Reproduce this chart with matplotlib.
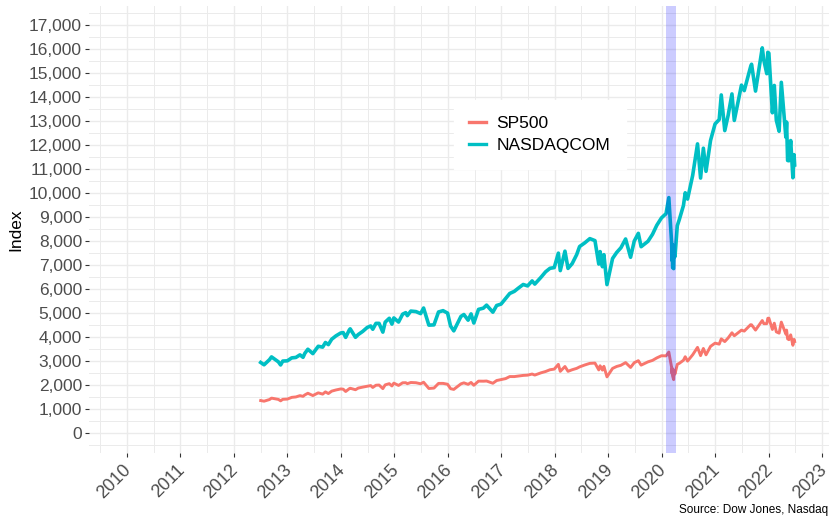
import numpy as np
import pandas as pd
import matplotlib
matplotlib.use("Agg")
import matplotlib.pyplot as plt
import matplotlib.transforms as mtransforms
from matplotlib.lines import Line2D
from matplotlib.ticker import FuncFormatter, MultipleLocator

plt.rcParams['font.family'] = ['Liberation Sans', 'DejaVu Sans']

dates = [
    "2012-07-02", "2012-07-25", "2012-08-31", "2012-09-14", "2012-10-31", "2012-11-15", "2012-11-30", "2012-12-31",
    "2013-01-31", "2013-02-28", "2013-03-28", "2013-04-18", "2013-04-30", "2013-05-21", "2013-06-24", "2013-07-31",
    "2013-08-30", "2013-09-18", "2013-10-08", "2013-10-31", "2013-11-29", "2013-12-31",
    "2014-01-17", "2014-02-03", "2014-02-28", "2014-03-06", "2014-04-11", "2014-04-30", "2014-05-30", "2014-06-30",
    "2014-07-24", "2014-08-07", "2014-08-29", "2014-09-19", "2014-10-15", "2014-10-31", "2014-11-28", "2014-12-16",
    "2014-12-29",
    "2015-01-30", "2015-02-27", "2015-03-20", "2015-03-31", "2015-04-24", "2015-05-29", "2015-06-30", "2015-07-20",
    "2015-08-25", "2015-09-29", "2015-10-30", "2015-11-30", "2015-12-31",
    "2016-01-20", "2016-02-11", "2016-03-31", "2016-04-20", "2016-05-19", "2016-06-08", "2016-06-27", "2016-07-29",
    "2016-08-31", "2016-09-22", "2016-11-04", "2016-11-30", "2016-12-30",
    "2017-01-31", "2017-02-28", "2017-03-31", "2017-04-28", "2017-05-31", "2017-06-30", "2017-07-31", "2017-08-18",
    "2017-09-29", "2017-10-31", "2017-11-30", "2017-12-29",
    "2018-01-26", "2018-02-08", "2018-03-12", "2018-04-02", "2018-04-30", "2018-05-31", "2018-06-20", "2018-07-25",
    "2018-08-29", "2018-10-03", "2018-10-29", "2018-11-07", "2018-11-23", "2018-12-03", "2018-12-24",
    "2019-01-31", "2019-02-28", "2019-03-29", "2019-04-30", "2019-06-03", "2019-06-28", "2019-07-26", "2019-08-14",
    "2019-09-30", "2019-10-31", "2019-11-29", "2019-12-31",
    "2020-01-31", "2020-02-19", "2020-03-09", "2020-03-12", "2020-03-13", "2020-03-16", "2020-03-23", "2020-03-26",
    "2020-04-01", "2020-04-17", "2020-04-30", "2020-05-29", "2020-06-10", "2020-06-26", "2020-07-31", "2020-09-02",
    "2020-09-23", "2020-10-12", "2020-10-30", "2020-11-30", "2020-12-31",
    "2021-01-29", "2021-02-12", "2021-03-08", "2021-03-31", "2021-04-26", "2021-05-12", "2021-06-30", "2021-07-19",
    "2021-08-31", "2021-09-07", "2021-10-04", "2021-11-19", "2021-11-30", "2021-12-20", "2021-12-27",
    "2022-01-03", "2022-01-27", "2022-02-09", "2022-02-23", "2022-03-14", "2022-03-29", "2022-04-29", "2022-05-04",
    "2022-05-11", "2022-05-20", "2022-06-01", "2022-06-16", "2022-06-24", "2022-06-28",
]

sp500 = [
    1365, 1338, 1407, 1466, 1412, 1353, 1416, 1426,
    1498, 1515, 1569, 1541, 1598, 1669, 1573, 1686,
    1633, 1726, 1656, 1757, 1806, 1848,
    1839, 1742, 1859, 1877, 1816, 1884, 1924, 1960,
    1988, 1910, 2003, 2011, 1862, 2018, 2068, 1973,
    2091,
    1995, 2105, 2108, 2068, 2117, 2107, 2063, 2129,
    1868, 1884, 2079, 2080, 2044,
    1859, 1829, 2060, 2102, 2040, 2119, 2001, 2174,
    2171, 2178, 2085, 2199, 2239,
    2279, 2364, 2363, 2384, 2412, 2423, 2470, 2426,
    2519, 2575, 2648, 2674,
    2873, 2581, 2783, 2582, 2648, 2705, 2767, 2846,
    2914, 2926, 2641, 2814, 2633, 2790, 2351,
    2704, 2784, 2834, 2946, 2744, 2942, 3026, 2840,
    2977, 3038, 3141, 3231,
    3226, 3386, 2747, 2481, 2711, 2386, 2237, 2630,
    2471, 2875, 2912, 3044, 3190, 3009, 3271, 3580,
    3237, 3535, 3270, 3622, 3756,
    3714, 3934, 3821, 3973, 4187, 4063, 4298, 4258,
    4523, 4520, 4300, 4698, 4567, 4568, 4791,
    4797, 4326, 4587, 4226, 4173, 4632, 4132, 4300,
    3935, 3901, 4101, 3667, 3912, 3821,
]

nasdaq = [
    2951, 2854, 3067, 3183, 2977, 2847, 3010, 3020,
    3142, 3160, 3268, 3166, 3329, 3502, 3320, 3626,
    3590, 3783, 3695, 3920, 4060, 4177,
    4197, 3997, 4308, 4352, 3999, 4115, 4243, 4408,
    4473, 4334, 4580, 4580, 4215, 4631, 4792, 4548,
    4807,
    4635, 4964, 5026, 4901, 5092, 5070, 4987, 5219,
    4506, 4517, 5054, 5109, 5007,
    4472, 4267, 4870, 4948, 4713, 4974, 4594, 5162,
    5213, 5339, 5046, 5324, 5383,
    5615, 5825, 5912, 6048, 6199, 6140, 6348, 6216,
    6496, 6728, 6874, 6903,
    7506, 6777, 7588, 6870, 7066, 7442, 7781, 7932,
    8110, 8026, 7050, 7571, 6939, 7442, 6193,
    7282, 7533, 7729, 8095, 7333, 8006, 8330, 7773,
    7999, 8292, 8665, 8973,
    9151, 9817, 7950, 7201, 7875, 6905, 6861, 7797,
    7360, 8650, 8890, 9490, 10020, 9757, 10745, 12056,
    10633, 11876, 10912, 12199, 12888,
    13071, 14095, 12609, 13247, 14138, 13032, 14504, 14275,
    15259, 15374, 14255, 16057, 15538, 14980, 15871,
    15833, 13353, 14490, 13038, 12581, 14620, 12335, 12964,
    11364, 11354, 12195, 10646, 11608, 11182,
]

recession_start = "2020-02-01"
recession_end = "2020-04-01"
year_ticks = list(range(2010, 2024))
caption = "Source: Dow Jones, Nasdaq"


def decimal_year(d):
    d = pd.Timestamp(d)
    return d.year + (d.dayofyear - 1) / 365.25


x = np.array([decimal_year(d) for d in dates])

my_dpi = 100
fig = plt.figure(figsize=(831 / my_dpi, 518 / my_dpi), dpi=my_dpi)
ax1 = fig.add_axes([89 / 831, 1 - 453 / 518, (829 - 89) / 831, (453 - 6) / 518])

red = '#F8766D'
teal = '#00BFC4'
ax1.plot(x, sp500, color=red, lw=2.1, solid_joinstyle='round', zorder=3)
ax1.plot(x, nasdaq, color=teal, lw=2.6, solid_joinstyle='round', zorder=3)
ax1.axvspan(decimal_year(recession_start), decimal_year(recession_end) + 0.01,
            color='blue', alpha=0.2, lw=0, zorder=4)

ax1.set_xlim(2009.29, 2023.13)
ax1.set_ylim(-820, 17800)

ax1.set_xticks(year_ticks)
ax1.set_xticklabels([str(y) for y in year_ticks], rotation=45, ha='right', va='top',
                    rotation_mode='anchor')
ax1.set_xticks([y + 0.5 for y in range(2009, 2023)], minor=True)
ax1.yaxis.set_major_locator(MultipleLocator(1000))
ax1.yaxis.set_minor_locator(MultipleLocator(500))
ax1.yaxis.set_major_formatter(FuncFormatter(lambda v, p: f"{int(v):,}"))

ax1.tick_params(axis='both', which='major', labelsize=12.5, labelcolor='#4D4D4D',
                color='#333333', length=3, width=0.8)
ax1.tick_params(axis='x', which='major', labelsize=13)
ax1.tick_params(axis='both', which='minor', length=0)
ax1.tick_params(axis='y', pad=2)
ax1.tick_params(axis='x', pad=3)

# nudge the rotated year labels a bit to the left
shift = mtransforms.ScaledTranslation(-3 / 72, 0, fig.dpi_scale_trans)
for lbl in ax1.get_xticklabels():
    lbl.set_transform(lbl.get_transform() + shift)

for s in ax1.spines.values():
    s.set_visible(False)
ax1.grid(True, which='major', color='#EBEBEB', lw=1.0, zorder=0)
ax1.grid(True, which='minor', color='#EBEBEB', lw=0.7, zorder=0)
ax1.set_axisbelow(True)

ax1.set_ylabel("Index", fontsize=12.5, color='black', labelpad=4)

handles = [Line2D([], [], color=red, lw=2.4), Line2D([], [], color=teal, lw=2.4)]
leg = ax1.legend(handles, ["SP500", "NASDAQCOM"], loc='center', bbox_to_anchor=(0.609, 0.713),
                 fontsize=12.5, frameon=True, fancybox=False, framealpha=1,
                 handlelength=0.95, handletextpad=0.6, labelspacing=0.42, borderpad=0.9)
leg.get_frame().set_facecolor('white')
leg.get_frame().set_edgecolor('white')
leg.set_zorder(5)

fig.text(828 / 831, 1 - 510 / 518, caption, ha='right', va='center', fontsize=8.5, color='black')

fig.savefig("out.png", dpi=my_dpi)
